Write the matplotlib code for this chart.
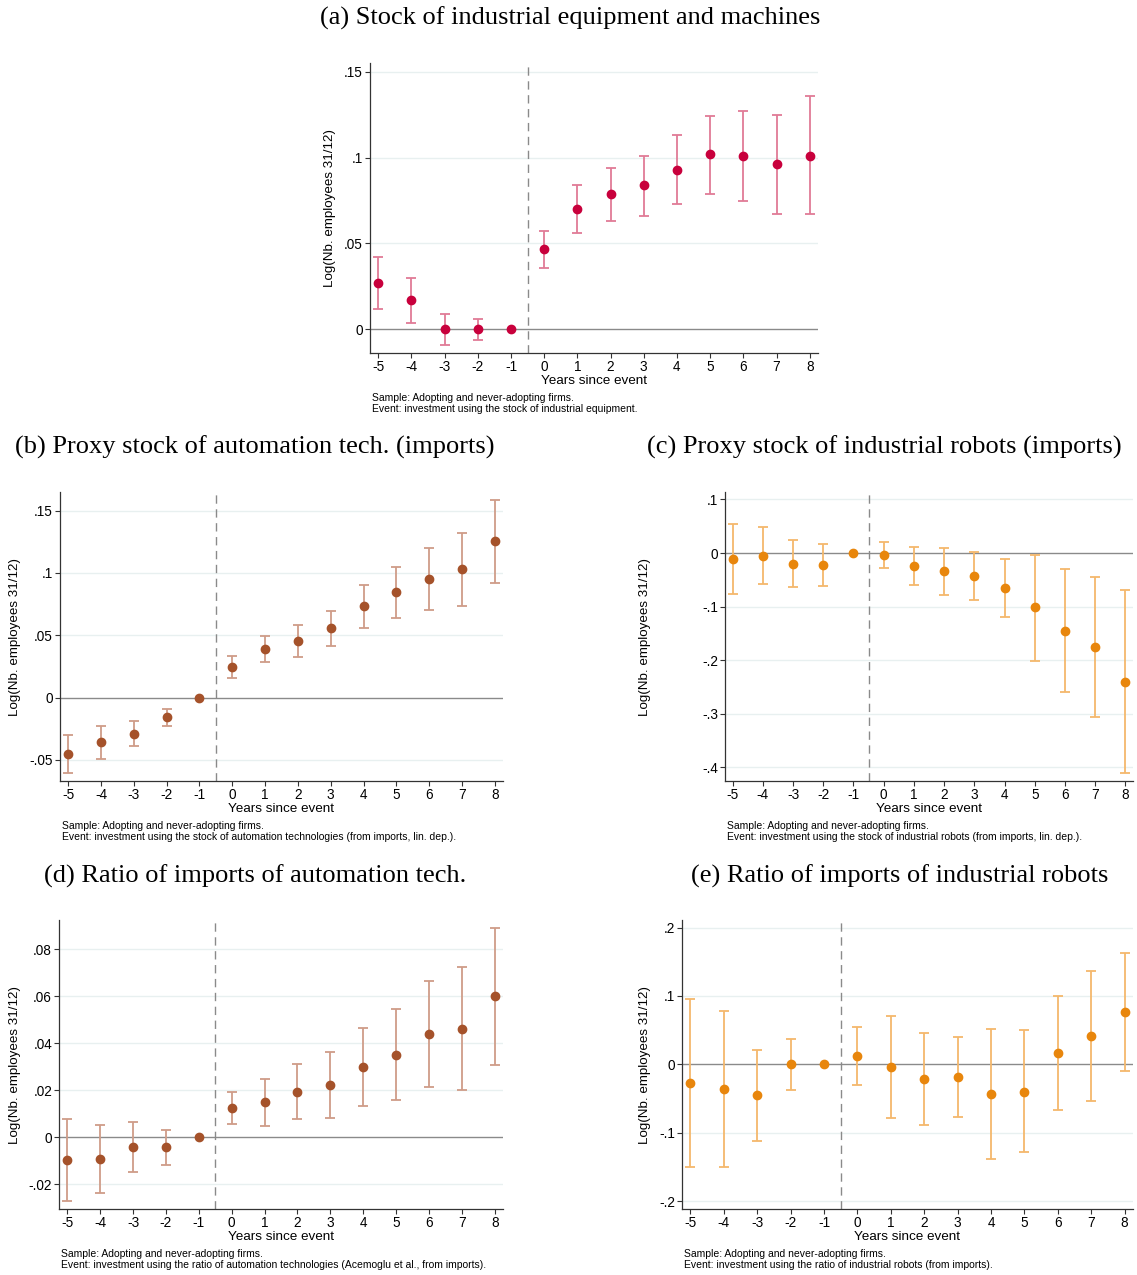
import numpy as np
import matplotlib
matplotlib.use("Agg")
import matplotlib.pyplot as plt

# =============================
# DATA
# =============================
years = [-5, -4, -3, -2, -1, 0, 1, 2, 3, 4, 5, 6, 7, 8]

# (a) stock of industrial equipment
a_est = [0.027, 0.017, 0.000, 0.000, 0.0, 0.047, 0.070, 0.079, 0.084, 0.093, 0.102, 0.101, 0.096, 0.101]
a_lo  = [0.012, 0.004, -0.009, -0.006, 0.0, 0.036, 0.056, 0.063, 0.066, 0.073, 0.079, 0.075, 0.067, 0.067]
a_hi  = [0.042, 0.030, 0.009, 0.006, 0.0, 0.057, 0.084, 0.094, 0.101, 0.113, 0.124, 0.127, 0.125, 0.136]

# (b) proxy stock of automation tech
b_est = [-0.045, -0.036, -0.029, -0.016, 0.0, 0.0244, 0.0386, 0.0456, 0.0556, 0.0733, 0.0845, 0.095, 0.1028, 0.1253]
b_lo  = [-0.0607, -0.049, -0.0386, -0.023, 0.0, 0.016, 0.0284, 0.0327, 0.0416, 0.0561, 0.0641, 0.0706, 0.0738, 0.0918]
b_hi  = [-0.0298, -0.023, -0.0185, -0.0094, 0.0, 0.033, 0.0494, 0.0585, 0.0697, 0.0902, 0.105, 0.1197, 0.132, 0.1589]

# (c) proxy stock of industrial robots
c_est = [-0.011, -0.0056, -0.020, -0.022, 0.0, -0.0044, -0.024, -0.034, -0.043, -0.065, -0.1016, -0.145, -0.1757, -0.240]
c_lo  = [-0.076, -0.058, -0.064, -0.061, 0.0, -0.028, -0.060, -0.0785, -0.0885, -0.120, -0.2006, -0.260, -0.3065, -0.410]
c_hi  = [0.054, 0.048, 0.025, 0.0174, 0.0, 0.0206, 0.0106, 0.010, 0.0025, -0.0106, -0.003, -0.030, -0.045, -0.0685]

# (d) ratio of imports of automation tech
d_est = [-0.0095, -0.0092, -0.0041, -0.0042, 0.0, 0.0123, 0.0149, 0.0194, 0.0224, 0.0297, 0.0351, 0.0438, 0.0462, 0.0599]
d_lo  = [-0.0269, -0.0238, -0.0149, -0.0118, 0.0, 0.0055, 0.005, 0.0076, 0.0082, 0.0132, 0.016, 0.0212, 0.020, 0.0307]
d_hi  = [0.0079, 0.0054, 0.0067, 0.0033, 0.0, 0.0193, 0.0249, 0.0313, 0.0364, 0.0463, 0.0544, 0.0666, 0.0725, 0.0891]

# (e) ratio of imports of industrial robots
e_est = [-0.0278, -0.036, -0.0454, 0.0, 0.0, 0.0122, -0.0039, -0.022, -0.0185, -0.0439, -0.040, 0.0171, 0.041, 0.0766]
e_lo  = [-0.150, -0.150, -0.112, -0.037, 0.0, -0.030, -0.0785, -0.089, -0.0766, -0.139, -0.129, -0.0668, -0.054, -0.0102]
e_hi  = [0.095, 0.0785, 0.0215, 0.0366, 0.0, 0.0546, 0.0707, 0.0454, 0.0395, 0.0512, 0.050, 0.1005, 0.1366, 0.1634]

a_yticks = [0, 0.05, 0.1, 0.15]
a_ylabels = ["0", ".05", ".1", ".15"]
b_yticks = [-0.05, 0, 0.05, 0.1, 0.15]
b_ylabels = ["-.05", "0", ".05", ".1", ".15"]
c_yticks = [-0.4, -0.3, -0.2, -0.1, 0, 0.1]
c_ylabels = ["-.4", "-.3", "-.2", "-.1", "0", ".1"]
d_yticks = [-0.02, 0, 0.02, 0.04, 0.06, 0.08]
d_ylabels = ["-.02", "0", ".02", ".04", ".06", ".08"]
e_yticks = [-0.2, -0.1, 0, 0.1, 0.2]
e_ylabels = ["-.2", "-.1", "0", ".1", ".2"]

titles = [
    "(a) Stock of industrial equipment and machines",
    "(b) Proxy stock of automation tech. (imports)",
    "(c) Proxy stock of industrial robots (imports)",
    "(d) Ratio of imports of automation tech.",
    "(e) Ratio of imports of industrial robots",
]
sample_note = "Sample: Adopting and never-adopting firms."
event_notes = [
    "Event: investment using the stock of industrial equipment.",
    "Event: investment using the stock of automation technologies (from imports, lin. dep.).",
    "Event: investment using the stock of industrial robots (from imports, lin. dep.).",
    "Event: investment using the ratio of automation technologies (Acemoglu et al., from imports).",
    "Event: investment using the ratio of industrial robots (from imports).",
]

# =============================
# STYLE
# =============================
plt.rcParams["font.family"] = ["Liberation Sans", "DejaVu Sans"]

W, H = 1137, 1275
RED = ("#c8003c", "#e07b96")
BROWN = ("#a5522a", "#cf9c88")
ORANGE = ("#e8860c", "#f4b86c")

# axes boxes in pixels: left, right, top, bottom
panels = [
    dict(box=(370, 818, 63, 353), est=a_est, lo=a_lo, hi=a_hi, ylim=(-0.0137, 0.155),
         yt=a_yticks, yl=a_ylabels, col=RED, title_xy=(570, 18), ylab_x=330),
    dict(box=(60, 503, 492, 781), est=b_est, lo=b_lo, hi=b_hi, ylim=(-0.067, 0.165),
         yt=b_yticks, yl=b_ylabels, col=BROWN, title_xy=(255, 447), ylab_x=15),
    dict(box=(725, 1133, 492, 781), est=c_est, lo=c_lo, hi=c_hi, ylim=(-0.4255, 0.114),
         yt=c_yticks, yl=c_ylabels, col=ORANGE, title_xy=(884, 447), ylab_x=645),
    dict(box=(59, 503, 920, 1209), est=d_est, lo=d_lo, hi=d_hi, ylim=(-0.0305, 0.0924),
         yt=d_yticks, yl=d_ylabels, col=BROWN, title_xy=(255, 876), ylab_x=15),
    dict(box=(682, 1133, 920, 1209), est=e_est, lo=e_lo, hi=e_hi, ylim=(-0.2117, 0.211),
         yt=e_yticks, yl=e_ylabels, col=ORANGE, title_xy=(900, 876), ylab_x=645),
]

fig = plt.figure(figsize=(W / 100, H / 100), dpi=100)

for i, p in enumerate(panels):
    l, r, t, b = p["box"]
    ax = fig.add_axes([l / W, 1 - b / H, (r - l) / W, (b - t) / H])

    est = np.array(p["est"])
    lo = np.array(p["lo"])
    hi = np.array(p["hi"])
    x = np.array(years)

    ax.axhline(0, color="#8a8a8a", lw=1.0, zorder=1)
    ax.axvline(-0.5, color="#8a8a8a", lw=1.0, ls=(0, (6, 4)), zorder=1)
    for yv in p["yt"]:
        if yv != 0:
            ax.axhline(yv, color="#e8f0f0", lw=1.0, zorder=0)

    has_ci = hi > lo
    ax.errorbar(x[has_ci], est[has_ci], yerr=[est[has_ci] - lo[has_ci], hi[has_ci] - est[has_ci]],
                fmt="none", ecolor=p["col"][1], elinewidth=1.3, capsize=3.5, capthick=1.3, zorder=2)
    ax.plot(x, est, "o", color=p["col"][0], ms=6, zorder=3)

    ax.set_xlim(-5.25, 8.25)
    ax.set_ylim(*p["ylim"])
    ax.set_xticks(years)
    ax.set_xticklabels([str(v) for v in years])
    ax.set_yticks(p["yt"])
    ax.set_yticklabels(p["yl"])
    ax.tick_params(labelsize=9.8, length=3.5, width=0.8, color="#333333", pad=1.5)

    for s in ["top", "right"]:
        ax.spines[s].set_visible(False)
    for s in ["left", "bottom"]:
        ax.spines[s].set_color("#333333")
        ax.spines[s].set_linewidth(0.9)

    fig.text((l + r) / 2 / W, 1 - (b + 28) / H, "Years since event", ha="center", va="center", fontsize=9.7)
    fig.text(p["ylab_x"] / W, 1 - (t + b) / 2 / H, "Log(Nb. employees 31/12)",
             rotation=90, ha="center", va="center", fontsize=9.6)
    fig.text((l + 2) / W, 1 - (b + 45) / H, sample_note, ha="left", va="center", fontsize=7.5)
    fig.text((l + 2) / W, 1 - (b + 56) / H, event_notes[i], ha="left", va="center", fontsize=7.5)

    tx, ty = p["title_xy"]
    fig.text(tx / W, 1 - ty / H, titles[i], ha="center", va="center",
             fontsize=19, family=["Liberation Serif", "DejaVu Serif"])

fig.savefig("out.png", dpi=100)
